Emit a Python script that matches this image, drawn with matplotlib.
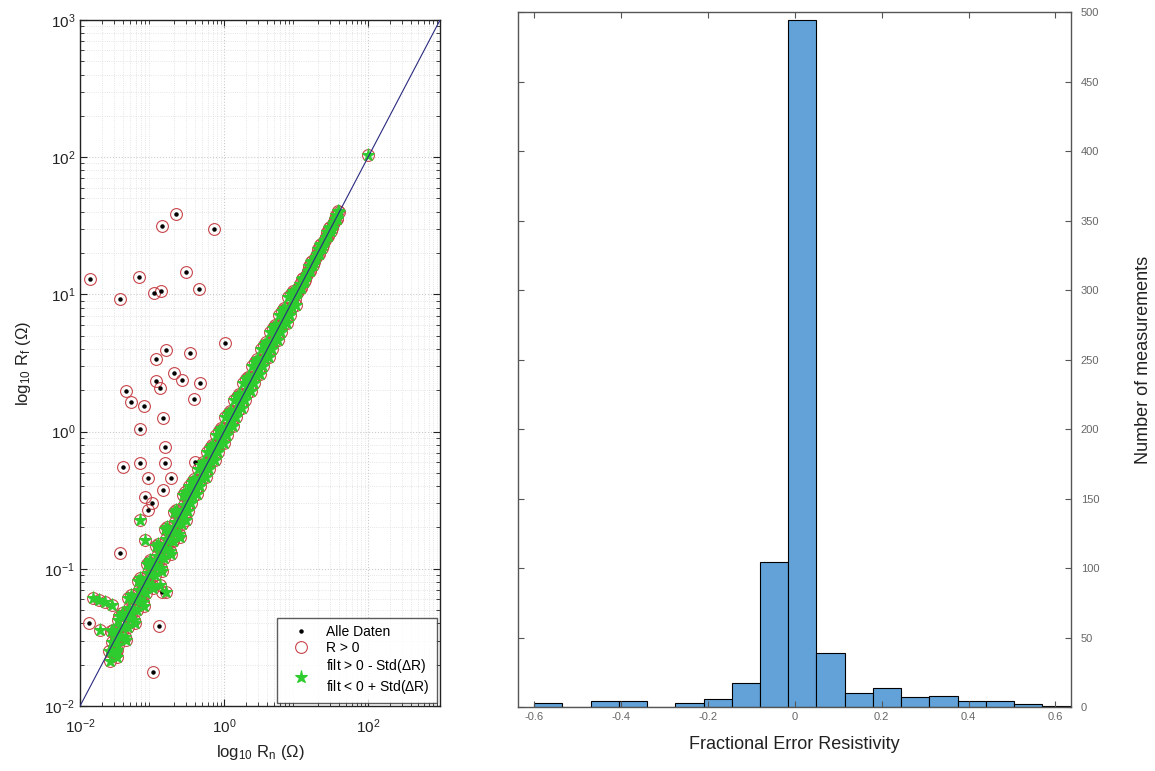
import matplotlib
matplotlib.use('Agg')
import matplotlib.pyplot as plt
import numpy as np

plt.rcParams['font.family'] = ['Liberation Sans', 'DejaVu Sans']
plt.rcParams['mathtext.fontset'] = 'custom'
plt.rcParams['mathtext.rm'] = 'Liberation Sans'
plt.rcParams['mathtext.it'] = 'Liberation Sans'

# linker Plot: Punkte entlang der Diagonale (gefiltert, gruen)
band_rn = [0.025, 0.027, 0.028, 0.030, 0.032, 0.033, 0.035, 0.037, 0.040, 0.042,
           0.045, 0.047, 0.050, 0.053, 0.056, 0.060, 0.063, 0.067, 0.071, 0.075,
           0.079, 0.084, 0.089, 0.094, 0.100, 0.106, 0.112, 0.119, 0.126, 0.133,
           0.141, 0.150, 0.158, 0.168, 0.178, 0.188, 0.200, 0.211, 0.224, 0.237,
           0.251, 0.266, 0.282, 0.299, 0.316, 0.335, 0.355, 0.376, 0.398, 0.422,
           0.447, 0.473, 0.501, 0.531, 0.562, 0.596, 0.631, 0.668, 0.708, 0.750,
           0.794, 0.841, 0.891, 0.944, 1.00, 1.06, 1.12, 1.19, 1.26, 1.33,
           1.41, 1.50, 1.58, 1.68, 1.78, 1.88, 2.00, 2.11, 2.24, 2.37,
           2.51, 2.66, 2.82, 2.99, 3.16, 3.35, 3.55, 3.76, 3.98, 4.22,
           4.47, 4.73, 5.01, 5.31, 5.62, 5.96, 6.31, 6.68, 7.08, 7.50,
           7.94, 8.41, 8.91, 9.44, 10.0, 10.6, 11.2, 11.9, 12.6, 13.3,
           14.1, 15.0, 15.8, 16.8, 17.8, 18.8, 20.0, 21.1, 22.4, 23.7,
           25.1, 26.6, 28.2, 29.9, 31.6, 33.5, 35.5, 37.6, 39.8,
           0.026, 0.0275, 0.029, 0.031, 0.0325, 0.034, 0.036, 0.0385, 0.041, 0.0435,
           0.046, 0.0485, 0.0515, 0.0545, 0.058, 0.0615, 0.065, 0.069, 0.073, 0.077,
           0.0815, 0.0865, 0.0915, 0.097, 0.103, 0.109, 0.1155, 0.1225, 0.1295, 0.137,
           0.1455, 0.154, 0.163, 0.173, 0.183, 0.194, 0.2055, 0.2175, 0.2305, 0.244,
           0.2585, 0.274, 0.2905, 0.3075, 0.3255, 0.345, 0.3655, 0.387, 0.41, 0.4345,
           0.46, 0.487, 0.516, 0.5465, 0.579, 0.6135, 0.6495, 0.688, 0.729, 0.772,
           0.8175, 0.866, 0.9175, 0.972, 1.03, 1.09, 1.155, 1.225, 1.295, 1.37,
           1.455, 1.54, 1.63, 1.73, 1.83, 1.94, 2.055, 2.175, 2.305, 2.44,
           2.585, 2.74, 2.905, 3.075, 3.255, 3.45, 3.655, 3.87, 4.10, 4.345,
           4.60, 4.87, 5.16, 5.465, 5.79, 6.135, 6.495, 6.88, 7.29, 7.72,
           8.175, 8.66, 9.175, 9.72, 10.3, 10.9, 11.55, 12.25, 12.95, 13.7,
           14.55, 15.4, 16.3, 17.3, 18.3, 19.4, 20.55, 21.75, 23.05, 24.4,
           25.85, 27.4, 29.05, 30.75, 32.55, 34.5, 36.55, 38.7,
           0.0152, 0.0185, 0.0224, 0.028, 0.0191, 0.033, 0.0318, 0.034, 0.131, 0.155,
           0.05, 0.095, 0.194, 0.294, 0.069, 0.081, 101.0]
band_rf = [0.025, 0.035, 0.0246, 0.0345, 0.0243, 0.033, 0.0455, 0.0326, 0.046, 0.0319,
           0.045, 0.0611, 0.044, 0.061, 0.0426, 0.060, 0.082, 0.059, 0.0817, 0.057,
           0.079, 0.109, 0.0783, 0.108, 0.076, 0.106, 0.146, 0.105, 0.145, 0.101,
           0.141, 0.195, 0.139, 0.193, 0.135, 0.188, 0.26, 0.186, 0.258, 0.18,
           0.251, 0.346, 0.248, 0.344, 0.262, 0.335, 0.426, 0.342, 0.438, 0.35,
           0.447, 0.568, 0.456, 0.584, 0.466, 0.596, 0.757, 0.608, 0.779, 0.623,
           0.794, 1.01, 0.811, 1.04, 0.83, 1.06, 1.34, 1.08, 1.39, 1.10,
           1.41, 1.80, 1.44, 1.85, 1.48, 1.88, 2.40, 1.92, 2.46, 1.97,
           2.51, 3.19, 2.57, 3.29, 2.62, 3.35, 4.26, 3.42, 4.38, 3.50,
           4.47, 5.68, 4.56, 5.84, 4.66, 5.96, 7.57, 6.08, 7.79, 6.23,
           7.94, 10.1, 8.11, 10.4, 8.3, 10.6, 12.0, 11.2, 13.1, 12.8,
           14.1, 16.1, 14.9, 17.5, 17.1, 18.8, 21.4, 19.8, 23.3, 22.8,
           25.1, 28.5, 26.5, 31.1, 30.3, 33.5, 38.0, 35.3, 39.8,
           0.0213, 0.0294, 0.036, 0.0291, 0.0228, 0.0279, 0.0385, 0.0477, 0.0385, 0.0305,
           0.0377, 0.0519, 0.0639, 0.0512, 0.0406, 0.0504, 0.0696, 0.0856, 0.0686, 0.0539,
           0.0668, 0.0926, 0.113, 0.0912, 0.0721, 0.0894, 0.124, 0.152, 0.122, 0.0959,
           0.119, 0.165, 0.202, 0.163, 0.128, 0.159, 0.22, 0.27, 0.217, 0.171,
           0.212, 0.293, 0.36, 0.292, 0.40, 0.30, 0.384, 0.449, 0.39, 0.534,
           0.40, 0.511, 0.599, 0.519, 0.712, 0.534, 0.682, 0.798, 0.693, 0.95,
           0.711, 0.909, 1.064, 0.923, 1.27, 0.948, 1.21, 1.42, 1.23, 1.69,
           1.27, 1.62, 1.89, 1.64, 2.25, 1.69, 2.16, 2.52, 2.19, 3.0,
           2.25, 2.88, 3.37, 2.92, 4.0, 3.0, 3.84, 4.49, 3.9, 5.34,
           4.0, 5.11, 5.99, 5.19, 7.12, 5.34, 6.82, 7.98, 6.93, 9.5,
           7.11, 9.09, 10.6, 9.23, 10.3, 11.1, 11.3, 12.9, 12.3, 13.7,
           14.8, 15.1, 17.1, 16.4, 18.3, 19.8, 20.1, 22.8, 21.9, 24.4,
           26.4, 26.9, 30.5, 29.2, 32.55, 35.2, 35.8, 40.6,
           0.0612, 0.0593, 0.0573, 0.0544, 0.0358, 0.0256, 0.0303, 0.0424, 0.0762, 0.0678,
           0.05, 0.116, 0.162, 0.227, 0.227, 0.162, 103.0]

# Ausreisser (nur R > 0, nicht gefiltert)
out_rn = [0.213, 0.136, 0.731, 0.0138, 0.0668, 0.30, 0.108, 0.135, 0.0362, 0.452,
          1.04, 0.158, 0.338, 0.115, 0.202, 0.259, 0.112, 0.131, 0.466, 0.0435,
          0.0517, 0.0767, 0.38, 0.144, 0.069,
          0.150, 0.150, 0.069, 0.040, 0.393, 0.087, 0.182, 0.140, 0.081, 0.101,
          0.087, 0.0354, 0.0135, 0.1245, 0.104, 0.136]
out_rf = [38.4, 31.7, 30.0, 12.9, 13.3, 14.5, 10.2, 10.6, 9.25, 10.9,
          4.42, 3.95, 3.72, 3.38, 2.66, 2.38, 2.33, 2.07, 2.27, 1.99,
          1.64, 1.54, 1.73, 1.26, 1.04,
          0.773, 0.59, 0.59, 0.552, 0.60, 0.459, 0.459, 0.375, 0.333, 0.30,
          0.268, 0.130, 0.0401, 0.0385, 0.0178, 0.068]

# rechter Plot: Histogramm
hist_edges = [-0.600, -0.535, -0.470, -0.405, -0.340, -0.275, -0.210, -0.145, -0.080, -0.015,
              0.050, 0.115, 0.180, 0.245, 0.310, 0.375, 0.440, 0.505, 0.570, 0.635]
hist_counts = [3, 0, 4, 4, 0, 3, 6, 17, 104, 494, 39, 10, 14, 7, 8, 4, 4, 2, 1]
hist_xticks = [-0.6, -0.4, -0.2, 0, 0.2, 0.4, 0.6]
hist_xlabels = ['-0.6', '-0.4', '-0.2', '0', '0.2', '0.4', '0.6']
hist_yticks = [0, 50, 100, 150, 200, 250, 300, 350, 400, 450, 500]

fig = plt.figure(figsize=(11.55, 7.71), dpi=100)

# --- linker Plot ---
ax1 = fig.add_axes([0.0693, 0.0843, 0.3117, 0.8898])
all_rn = band_rn + out_rn
all_rf = band_rf + out_rf
ax1.plot(all_rn, all_rf, 'o', color='black', markersize=2.2, linestyle='none',
         label='Alle Daten', zorder=3)
ax1.plot(all_rn, all_rf, 'o', markerfacecolor='none', markeredgecolor='#c8464b',
         markersize=8.5, markeredgewidth=0.8, linestyle='none', label='R > 0', zorder=2)
ax1.plot(band_rn, band_rf, '*', color='#2ecc2e', markersize=9.5, markeredgewidth=0.8,
         linestyle='none', label='filt > 0 - Std($\\Delta$R)\nfilt < 0 + Std($\\Delta$R)', zorder=4)
ax1.plot([1e-2, 1e3], [1e-2, 1e3], color='#2a2a80', linewidth=0.8, zorder=5)

ax1.set_xscale('log')
ax1.set_yscale('log')
ax1.set_xlim(1e-2, 1e3)
ax1.set_ylim(1e-2, 1e3)
ax1.set_xticks([1e-2, 1e0, 1e2])
ax1.set_yticks([1e-2, 1e-1, 1e0, 1e1, 1e2, 1e3])
ax1.grid(True, which='major', color='#cccccc', linestyle=':', linewidth=0.8)
ax1.grid(True, which='minor', color='#dddddd', linestyle=':', linewidth=0.6)
ax1.set_axisbelow(True)
ax1.tick_params(which='both', direction='in', top=True, right=True, colors='#222222',
                labelsize=11)
ax1.tick_params(which='major', length=5)
ax1.tick_params(which='minor', length=3)
ax1.tick_params(axis='x', which='major', pad=8)
for s in ax1.spines.values():
    s.set_color('#222222')
    s.set_linewidth(1.0)
ax1.set_xlabel('log$_{10}$ R$_n$ ($\\Omega$)', fontsize=12, color='#222222', labelpad=5)
ax1.set_ylabel('log$_{10}$ R$_f$ ($\\Omega$)', fontsize=12, color='#222222', labelpad=8)
leg = ax1.legend(loc='lower right', fontsize=10, frameon=True, fancybox=False,
                 edgecolor='#333333', borderaxespad=0.25, handletextpad=0.6,
                 labelspacing=0.15, handlelength=2.4, borderpad=0.5)
leg.get_frame().set_linewidth(1.0)

# --- Histogramm ---
ax2 = fig.add_axes([0.4485, 0.083, 0.4788, 0.9014])
ax2.bar(hist_edges[:-1], hist_counts, width=np.diff(hist_edges), align='edge',
        color='#62a2d8', edgecolor='black', linewidth=0.8)
ax2.set_xlim(-0.637, 0.636)
ax2.set_ylim(0, 500)
ax2.set_xticks(hist_xticks)
ax2.set_xticklabels(hist_xlabels)
ax2.set_yticks(hist_yticks)
ax2.tick_params(direction='in', top=True, left=True, right=True, labelleft=False,
                labelright=True, labelsize=8, labelcolor='#666666', colors='#555555',
                length=4)
ax2.tick_params(axis='y', pad=7)
for s in ax2.spines.values():
    s.set_color('#555555')
    s.set_linewidth(1.0)
ax2.yaxis.set_label_position('right')
ax2.set_xlabel('Fractional Error Resistivity', fontsize=13, color='#222222', labelpad=10)
ax2.set_ylabel('Number of measurements', fontsize=13, color='#222222', labelpad=26)

plt.savefig('out.png', dpi=100)
